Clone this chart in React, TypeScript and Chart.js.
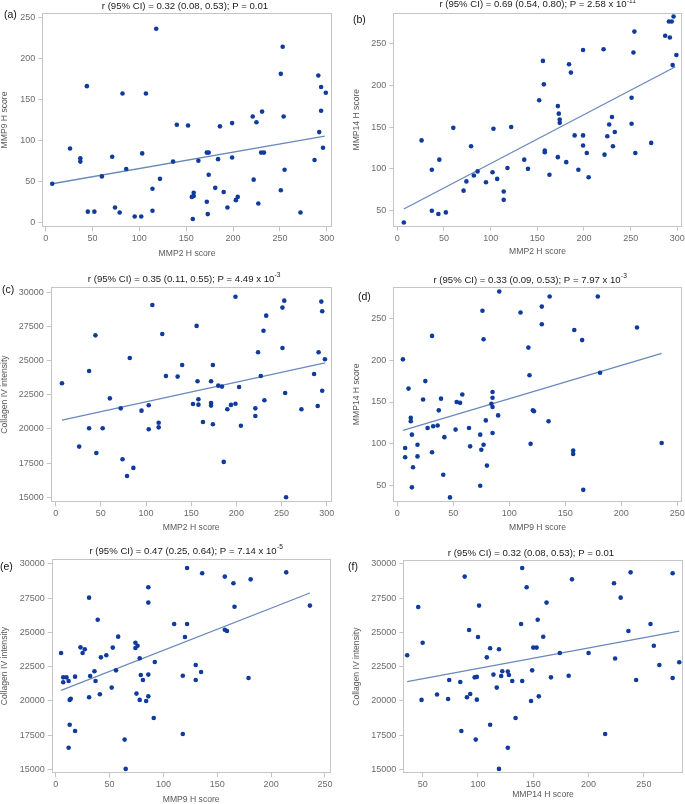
import React, { useEffect, useRef } from "react";
import { Chart, registerables } from "chart.js";

Chart.register(...registerables);

// ---------- DATA ----------
const aX = [7, 26, 37, 37, 44, 45, 52, 60, 71, 74, 79, 82, 86, 95, 103, 102, 107, 114, 114, 118, 122, 136, 140, 152, 156, 157, 158, 158, 163, 172, 172, 174, 173, 174, 181, 184, 186, 190, 194, 199, 199, 203, 205, 221, 225, 231, 230, 233, 222, 227, 251, 253, 254, 255, 251, 272, 287, 291, 292, 294, 294, 296, 299];
const aY = [47, 90, 78, 74, 166, 13, 13, 56, 80, 18, 12, 157, 65, 7, 84, 7, 157, 41, 14, 236, 53, 74, 119, 118, 31, 4, 36, 32, 75, 25, 85, 85, 10, 58, 42, 77, 117, 37, 18, 121, 79, 27, 31, 129, 122, 135, 85, 85, 52, 23, 181, 214, 129, 64, 39, 12, 76, 179, 110, 165, 136, 91, 158];

const bX = [7, 26, 37, 37, 44, 45, 52, 60, 71, 74, 79, 82, 86, 95, 102, 103, 107, 114, 114, 118, 122, 136, 140, 152, 156, 157, 158, 158, 163, 172, 172, 173, 174, 174, 181, 184, 186, 190, 194, 199, 199, 199, 203, 205, 221, 222, 225, 227, 230, 231, 233, 251, 251, 253, 254, 255, 272, 287, 291, 292, 294, 295, 296, 299];
const bY = [36, 134, 99, 50, 46, 111, 48, 149, 74, 85, 127, 92, 97, 84, 96, 148, 88, 73, 63, 101, 150, 111, 100, 182, 229, 201, 122, 120, 93, 175, 114, 166, 159, 155, 108, 225, 215, 140, 99, 242, 140, 128, 119, 90, 243, 117, 139, 153, 162, 127, 144, 185, 154, 239, 264, 119, 131, 259, 276, 257, 276, 224, 282, 236];

const cX = [7, 26, 37, 37, 44, 45, 52, 60, 72, 74, 79, 82, 86, 95, 103, 103, 107, 114, 114, 118, 122, 135, 140, 152, 156, 157, 158, 158, 163, 172, 172, 172, 174, 174, 180, 184, 186, 190, 194, 199, 199, 203, 205, 221, 221, 224, 227, 230, 231, 233, 251, 251, 253, 254, 255, 272, 286, 290, 291, 294, 295, 295, 298];
const cY = [23340, 18710, 24240, 20050, 26850, 18240, 20050, 22240, 21510, 17780, 16560, 25190, 17150, 21340, 21730, 19980, 29070, 20460, 20120, 26950, 23880, 23830, 24680, 21830, 27540, 23490, 22170, 21780, 20510, 23490, 21900, 21710, 24680, 20340, 23170, 23100, 17590, 21440, 21760, 29680, 21850, 23070, 20240, 21510, 20950, 25610, 23880, 27190, 22100, 28290, 25930, 28880, 29390, 22630, 15000, 21440, 24020, 21680, 25610, 29320, 28610, 22800, 25100];

const dX = [5, 7, 7, 10, 12, 12, 13, 13, 14, 18, 18, 23, 25, 27, 31, 31, 32, 36, 37, 39, 41, 42, 47, 52, 53, 56, 58, 64, 65, 74, 74, 75, 76, 77, 77, 79, 80, 84, 85, 85, 85, 85, 90, 91, 110, 117, 118, 119, 121, 122, 129, 129, 135, 136, 157, 157, 158, 165, 166, 179, 181, 214, 236];
const dY = [201, 95, 84, 166, 131, 127, 111, 48, 72, 99, 85, 153, 175, 119, 229, 90, 121, 122, 140, 154, 63, 108, 36, 117, 150, 149, 159, 119, 97, 111, 50, 93, 259, 99, 225, 128, 74, 148, 162, 155, 144, 113, 134, 282, 257, 215, 182, 100, 140, 139, 264, 243, 127, 276, 92, 88, 236, 224, 45, 276, 185, 239, 101];

const eX = [5, 7, 7, 10, 12, 12, 13, 13, 14, 18, 18, 23, 25, 27, 31, 31, 32, 36, 37, 39, 41, 42, 47, 52, 53, 56, 58, 64, 65, 74, 74, 75, 76, 78, 78, 79, 81, 84, 86, 86, 86, 86, 91, 92, 110, 118, 118, 120, 122, 122, 130, 130, 135, 136, 157, 157, 159, 165, 166, 179, 181, 214, 236];
const eY = [23500, 21720, 21360, 21720, 21450, 16580, 18260, 20070, 20160, 21770, 17800, 23910, 23500, 23770, 27540, 20260, 21820, 22160, 21450, 25930, 20480, 23180, 23330, 20970, 23890, 22230, 24690, 17170, 15030, 24250, 23860, 20530, 24030, 23110, 20070, 21890, 21530, 19990, 28300, 27180, 21920, 20330, 18750, 22840, 25620, 17580, 21840, 24670, 29710, 25620, 22620, 21530, 22110, 29320, 29080, 25200, 25110, 28590, 26880, 21670, 28880, 29390, 26960];

const fX = [36, 46, 49, 50, 63, 73, 74, 84, 85, 88, 90, 92, 93, 97, 98, 99, 99, 100, 101, 108, 111, 111, 114, 117, 119, 119, 121, 122, 127, 127, 128, 131, 134, 139, 140, 140, 144, 148, 149, 150, 153, 154, 155, 159, 162, 166, 174, 182, 185, 200, 215, 223, 224, 229, 236, 238, 243, 256, 259, 264, 276, 276, 282];
const fY = [23330, 26860, 20070, 24250, 20460, 20140, 21530, 21380, 17800, 29080, 20260, 25180, 20500, 21720, 17170, 20090, 21750, 24670, 26960, 23180, 23840, 18260, 21920, 20970, 23770, 15030, 21820, 22160, 22140, 16580, 21890, 21450, 18750, 25620, 29710, 21450, 28300, 19990, 22230, 23890, 23890, 25930, 20330, 24690, 27180, 21720, 23500, 21840, 28880, 23500, 17580, 28590, 23090, 27540, 25110, 29390, 21530, 25620, 24030, 22620, 29320, 21670, 22820];

// regression line end points
const aFitX = [7, 298];
const aFitY = [47, 105];
const bFitX = [7, 298];
const bFitY = [52, 222];
const cFitX = [7, 298];
const cFitY = [20640, 24830];
const dFitX = [5, 236];
const dFitY = [116, 208];
const eFitX = [5, 236];
const eFitY = [20770, 27880];
const fFitX = [36, 282];
const fFitY = [21400, 25100];

// tick labels
const mmp2Ticks = [0, 50, 100, 150, 200, 250, 300];
const mmp9Ticks = [0, 50, 100, 150, 200, 250];
const mmp14Ticks = [50, 100, 150, 200, 250];
const colTicks = [15000, 17500, 20000, 22500, 25000, 27500, 30000];

const panelLabels = ["(a)", "(b)", "(c)", "(d)", "(e)", "(f)"];
const titleMain = [
  "r (95% CI) = 0.32 (0.08, 0.53); P = 0.01",
  "r (95% CI) = 0.69 (0.54, 0.80); P = 2.58 x 10",
  "r (95% CI) = 0.35 (0.11, 0.55); P = 4.49 x 10",
  "r (95% CI) = 0.33 (0.09, 0.53); P = 7.97 x 10",
  "r (95% CI) = 0.47 (0.25, 0.64); P = 7.14 x 10",
  "r (95% CI) = 0.32 (0.08, 0.53); P = 0.01",
];
const titleSup = ["", "-11", "-3", "-3", "-5", ""];
const xTitles = ["MMP2 H score", "MMP2 H score", "MMP2 H score", "MMP9 H score", "MMP9 H score", "MMP14 H score"];
const yTitles = ["MMP9 H score", "MMP14 H score", "Collagen IV intensity", "MMP14 H score", "Collagen IV intensity", "Collagen IV intensity"];

// ---------- STYLE / LAYOUT ----------
const FONT = "'Liberation Sans', Arial, sans-serif";
const DOT = "#0f3c9c";
const LINE = "#6a89bb";
const FRAME = "#c4c4c4";
const TICK_TXT = "#6b6b6b";
const AXIS_TXT = "#595959";
const TITLE_TXT = "#1a1a1a";

type Cfg = {
  cx: number; cy: number; cw: number; ch: number;
  L: number; T: number; R: number; B: number;
  xmin: number; xmax: number; ymin: number; ymax: number;
  xs: number[]; ys: number[]; fx: number[]; fy: number[];
  xt: number[]; yt: number[];
  label: [number, number]; title: [number, number]; ytX: number; xtY: number;
  i: number;
};

const cfgs: Cfg[] = [
  { i: 0, cx: 0, cy: 0, cw: 342, ch: 266, L: 42.3, T: 12.7, R: 331.7, B: 227.3, xmin: -3.6, xmax: 305.3, ymin: -6.1, ymax: 255.6, xs: aX, ys: aY, fx: aFitX, fy: aFitY, xt: mmp2Ticks, yt: mmp9Ticks, label: [4, 15], title: [185, 6], ytX: 5, xtY: 254 },
  { i: 1, cx: 342, cy: 0, cw: 343, ch: 266, L: 393.3, T: 12.7, R: 681.7, B: 226.7, xmin: -4.3, xmax: 304.7, ymin: 30.9, ymax: 286.6, xs: bX, ys: bY, fx: bFitX, fy: bFitY, xt: mmp2Ticks, yt: mmp14Ticks, label: [353, 20], title: [537.5, 4.5], ytX: 357, xtY: 252 },
  { i: 2, cx: 0, cy: 266, cw: 342, ch: 269, L: 50.7, T: 286.7, R: 331.7, B: 502.3, xmin: -5.5, xmax: 305.5, ymin: 14634, ymax: 30410, xs: cX, ys: cY, fx: cFitX, fy: cFitY, xt: mmp2Ticks, yt: colTicks, label: [2, 290], title: [184, 279], ytX: 5, xtY: 528 },
  { i: 3, cx: 342, cy: 266, cw: 343, ch: 269, L: 393.3, T: 286.7, R: 681.7, B: 502, xmin: -3.6, xmax: 253.9, ymin: 30.5, ymax: 287.8, xs: dX, ys: dY, fx: dFitX, fy: dFitY, xt: mmp9Ticks, yt: mmp14Ticks, label: [358, 297], title: [530, 280], ytX: 357, xtY: 528 },
  { i: 4, cx: 0, cy: 535, cw: 342, ch: 269, L: 51.7, T: 559, R: 330.7, B: 773.3, xmin: -3.7, xmax: 255.3, ymin: 14708, ymax: 30365, xs: eX, ys: eY, fx: eFitX, fy: eFitY, xt: mmp9Ticks, yt: colTicks, label: [0, 567], title: [186, 551], ytX: 5, xtY: 800 },
  { i: 5, cx: 342, cy: 535, cw: 343, ch: 269, L: 403.3, T: 560, R: 684, B: 773.3, xmin: 32.5, xmax: 285.1, ymin: 14708, ymax: 30292, xs: fX, ys: fY, fx: fFitX, fy: fFitY, xt: mmp14Ticks, yt: colTicks, label: [348, 567], title: [531, 553], ytX: 357, xtY: 795 },
];

function makePlugin(cfg: Cfg) {
  return {
    id: "panelDeco" + cfg.i,
    beforeDatasetsDraw(chart: any) {
      const ctx = chart.ctx;
      const ca = chart.chartArea;
      ctx.save();
      ctx.strokeStyle = FRAME;
      ctx.lineWidth = 1;
      const l = Math.round(ca.left) + 0.5;
      const t = Math.round(ca.top) + 0.5;
      const r = Math.round(ca.right) - 0.5;
      const b = Math.round(ca.bottom) - 0.5;
      ctx.strokeRect(l, t, r - l, b - t);
      ctx.restore();
    },
    afterDraw(chart: any) {
      const ctx = chart.ctx;
      const ca = chart.chartArea;
      ctx.save();
      // panel label
      ctx.fillStyle = "#111";
      ctx.font = `10.5px ${FONT}`;
      ctx.textAlign = "left";
      ctx.textBaseline = "middle";
      ctx.fillText(panelLabels[cfg.i], cfg.label[0] - cfg.cx, cfg.label[1] - cfg.cy);
      // title
      const main = titleMain[cfg.i];
      const sup = titleSup[cfg.i];
      ctx.font = `9.6px ${FONT}`;
      const wMain = ctx.measureText(main).width;
      ctx.font = `6.6px ${FONT}`;
      const wSup = sup ? ctx.measureText(sup).width : 0;
      const startX = cfg.title[0] - cfg.cx - (wMain + wSup) / 2;
      const ty = cfg.title[1] - cfg.cy;
      ctx.fillStyle = TITLE_TXT;
      ctx.font = `9.6px ${FONT}`;
      ctx.fillText(main, startX, ty);
      if (sup) {
        ctx.font = `6.6px ${FONT}`;
        ctx.fillText(sup, startX + wMain + 0.3, ty - 3.5);
      }
      // axis titles
      ctx.fillStyle = AXIS_TXT;
      ctx.font = `8.6px ${FONT}`;
      ctx.textAlign = "center";
      ctx.fillText(xTitles[cfg.i], (ca.left + ca.right) / 2, cfg.xtY - cfg.cy);
      ctx.translate(cfg.ytX - cfg.cx, (ca.top + ca.bottom) / 2);
      ctx.rotate(-Math.PI / 2);
      ctx.fillText(yTitles[cfg.i], 0, 0);
      ctx.restore();
    },
  };
}

function Panel({ cfg }: { cfg: Cfg }) {
  const ref = useRef<HTMLCanvasElement>(null);
  useEffect(() => {
    const canvas = ref.current;
    if (!canvas) return;
    const xH = 20;
    const yW = cfg.L - cfg.cx;
    const padTop = cfg.T - cfg.cy;
    const padRight = cfg.cx + cfg.cw - cfg.R;
    const padBottom = cfg.cy + cfg.ch - cfg.B - xH;
    const gridOpts = {
      display: true,
      drawOnChartArea: false,
      drawTicks: true,
      tickLength: 4,
      color: FRAME,
      lineWidth: 1,
    };
    const tickFont = { family: FONT, size: 9 };
    const chart = new Chart(canvas, {
      type: "scatter",
      data: {
        datasets: [
          {
            data: cfg.xs.map((x, k) => ({ x, y: cfg.ys[k] })),
            backgroundColor: DOT,
            borderColor: DOT,
            borderWidth: 0,
            pointRadius: 2.3,
            pointHoverRadius: 2.3,
          },
          {
            data: cfg.fx.map((x, k) => ({ x, y: cfg.fy[k] })),
            showLine: true,
            borderColor: LINE,
            backgroundColor: LINE,
            borderWidth: 1.3,
            pointRadius: 0,
            pointHoverRadius: 0,
          },
        ],
      },
      options: {
        animation: false,
        responsive: false,
        events: [],
        layout: { padding: { left: 0, top: padTop, right: padRight, bottom: padBottom } },
        plugins: {
          legend: { display: false },
          tooltip: { enabled: false },
          title: { display: false },
        },
        scales: {
          x: {
            type: "linear",
            bounds: "data",
            min: cfg.xmin,
            max: cfg.xmax,
            afterBuildTicks: (s: any) => {
              s.ticks = cfg.xt.map((v) => ({ value: v }));
            },
            afterFit: (s: any) => {
              s.height = xH;
              s.paddingLeft = 0;
              s.paddingRight = 0;
            },
            grid: gridOpts,
            border: { display: false },
            ticks: {
              color: TICK_TXT,
              font: tickFont,
              padding: 2,
              maxRotation: 0,
              autoSkip: false,
              callback: (v: any) => String(v),
            },
          },
          y: {
            type: "linear",
            bounds: "data",
            min: cfg.ymin,
            max: cfg.ymax,
            afterBuildTicks: (s: any) => {
              s.ticks = cfg.yt.map((v) => ({ value: v }));
            },
            afterFit: (s: any) => {
              s.width = yW;
              s.paddingTop = 0;
              s.paddingBottom = 0;
            },
            grid: gridOpts,
            border: { display: false },
            ticks: {
              color: TICK_TXT,
              font: tickFont,
              padding: 3,
              autoSkip: false,
              callback: (v: any) => String(v),
            },
          },
        },
      } as any,
      plugins: [makePlugin(cfg)],
    });
    return () => chart.destroy();
  }, [cfg]);
  return (
    <canvas
      ref={ref}
      width={cfg.cw}
      height={cfg.ch}
      style={{ position: "absolute", left: cfg.cx, top: cfg.cy, width: cfg.cw, height: cfg.ch }}
    />
  );
}

export default function App() {
  return (
    <div style={{ position: "absolute", left: 0, top: 0, width: 685, height: 804, background: "#fff", overflow: "hidden" }}>
      {cfgs.map((c) => (
        <Panel key={c.i} cfg={c} />
      ))}
    </div>
  );
}
